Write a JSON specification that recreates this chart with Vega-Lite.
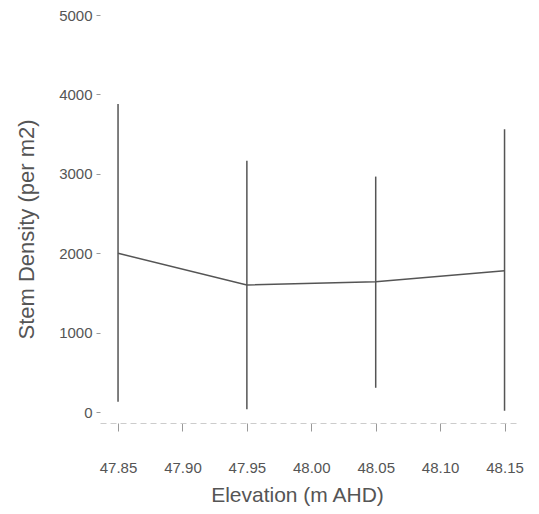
{
  "$schema": "https://vega.github.io/schema/vega-lite/v6.json",
  "autosize": "none",
  "width": 420,
  "height": 397,
  "padding": {"left": 100, "top": 15, "right": 19, "bottom": 102},
  "background": "white",
  "config": {
    "view": {"stroke": null},
    "axis": {"grid": false, "labelFont": "Liberation Sans", "titleFont": "Liberation Sans", "labelColor": "#555", "titleColor": "#555", "titleFontWeight": "normal", "domainColor": "#bbb", "tickColor": "#999"}
  },
  "data": {"values": [
    {"elev": 47.85, "mean": 1999, "lo": 130, "hi": 3880},
    {"elev": 47.95, "mean": 1600, "lo": 35, "hi": 3165},
    {"elev": 48.05, "mean": 1641, "lo": 305, "hi": 2965},
    {"elev": 48.15, "mean": 1780, "lo": 15, "hi": 3560}
  ]},
  "encoding": {
    "x": {"field": "elev", "type": "quantitative", "scale": {"domain": [47.836, 48.162], "nice": false, "zero": false},
      "axis": {"title": "Elevation (m AHD)", "values": [47.85, 47.9, 47.95, 48.0, 48.05, 48.1, 48.15], "format": ".2f", "offset": 11, "tickSize": 8, "labelPadding": 29, "labelFontSize": 15, "titleFontSize": 21, "titlePadding": 9, "titleX": 197, "domainDash": [6, 4], "domainColor": "#ccc"}}
  },
  "layer": [
    {
      "mark": {"type": "rule", "color": "#555", "strokeWidth": 1.5},
      "encoding": {
        "y": {"field": "lo", "type": "quantitative", "scale": {"domain": [0, 5000], "nice": false},
          "axis": {"title": "Stem Density (per m2)", "values": [0, 1000, 2000, 3000, 4000, 5000], "format": "d", "domain": false, "tickSize": 4, "labelPadding": 4, "labelFontSize": 15, "titleFontSize": 22, "titlePadding": 20, "titleY": 214}},
        "y2": {"field": "hi"}
      }
    },
    {
      "mark": {"type": "line", "color": "#555", "strokeWidth": 1.5},
      "encoding": {"y": {"field": "mean", "type": "quantitative"}}
    }
  ]
}
